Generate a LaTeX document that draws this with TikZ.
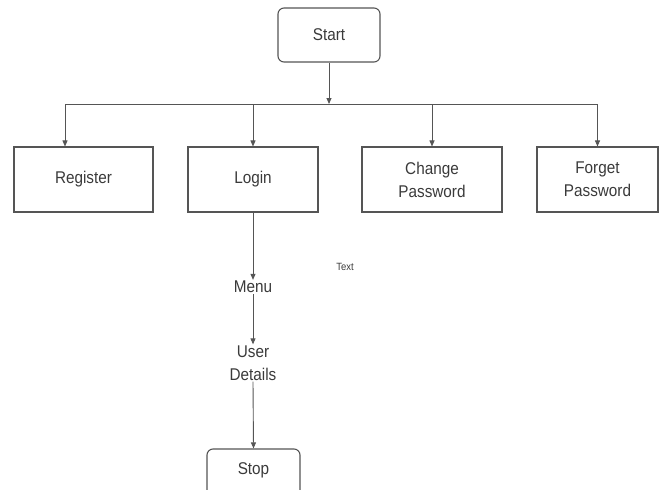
\documentclass[tikz,border=0pt]{standalone}
\usepackage{fontspec}
\setmainfont{Liberation Sans}[FakeStretch=0.9]
\usetikzlibrary{arrows.meta}
\definecolor{ln}{HTML}{555555}
\definecolor{tx}{HTML}{3A3A3A}
\begin{document}
\begin{tikzpicture}[x=1pt,y=-1pt,
  every node/.style={text=tx,font=\fontsize{17}{23}\selectfont},
  box/.style={draw=ln,line width=1.1pt,align=center,inner sep=0pt},
  rbox/.style={box,rounded corners=6pt},
  lbl/.style={align=center,inner sep=1pt},
  arr/.style={draw=ln,line width=0.9pt,-{Triangle[length=6pt,width=5pt]}},
  bus/.style={draw=ln,line width=0.9pt}]
\useasboundingbox (0,0) rectangle (662,490);
\clip (0,0) rectangle (662,490);
\node[rbox,minimum width=102pt,minimum height=54pt] (start) at (329,35) {Start};
\node[box,minimum width=139pt,minimum height=65pt] (register) at (83.5,179.5) {Register};
\node[box,minimum width=130pt,minimum height=65pt] (login) at (253,179.5) {Login};
\node[box,minimum width=140pt,minimum height=65pt] (change) at (432,179.5) {Change\\Password};
\node[box,minimum width=121pt,minimum height=65pt] (forget) at (597.5,179.5) {Forget\\Password};
\node[lbl] (menu) at (253,287) {Menu};
\node[lbl] (details) at (253,363) {User\\Details};
\node[rbox,minimum width=93pt,minimum height=50pt,text depth=0pt] (stopbox) at (253.5,474) {};
\node (stoplabel) at (253.5,470) {Stop};
\node[font=\fontsize{10.5}{12}\selectfont] (txt) at (345,267) {Text};
\coordinate (hy) at (329,104);
\coordinate (bl) at (65,104);
\coordinate (br) at (597.5,104);
\coordinate (j1) at (65,104);
\coordinate (j2) at (253,104);
\coordinate (j3) at (432,104);
\coordinate (j4) at (597.5,104);
\draw[arr] (start.south) -- (hy);
\draw[bus] (bl) -- (br);
\draw[arr] (j1) -- (j1 |- register.north);
\draw[arr] (j2) -- (j2 |- login.north);
\draw[arr] (j3) -- (j3 |- change.north);
\draw[arr] (j4) -- (j4 |- forget.north);
\draw[arr] (login.south) -- (menu.north);
\draw[arr] (menu.south) -- (details.north);
\draw[arr] (details.south) -- (stopbox.north);
\end{tikzpicture}
\end{document}
